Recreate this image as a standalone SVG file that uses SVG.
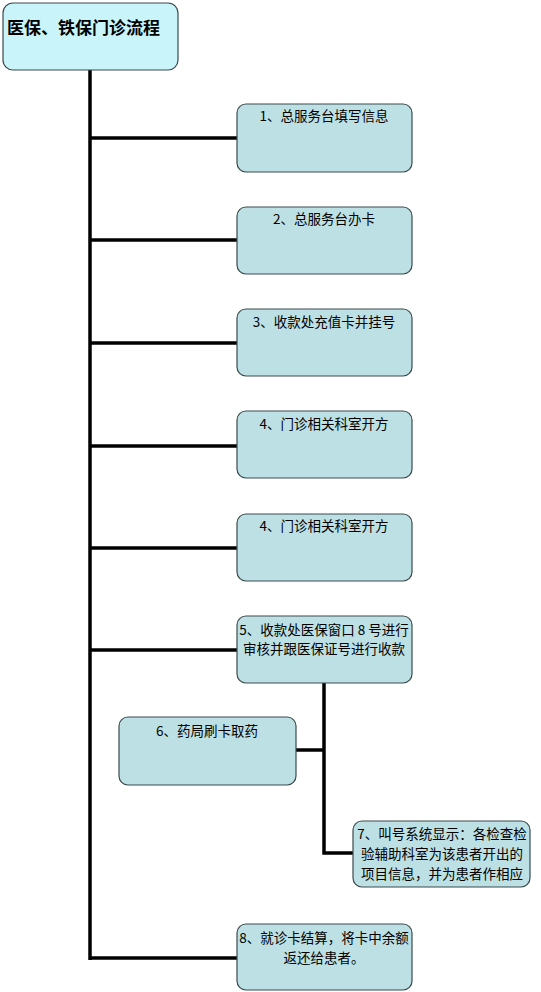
<svg xmlns="http://www.w3.org/2000/svg" width="541" height="992" viewBox="0 0 541 992">
<style>
.box{fill:#bde0e5;stroke:#3a4a4c;stroke-width:1.2}
.title{fill:#c8f4fa;stroke:#3a4a4c;stroke-width:1.2}
text{font-family:"Noto Sans CJK SC","Noto Sans",sans-serif;font-size:13.5px;fill:#000;text-anchor:middle}
.t{font-size:17px;font-weight:bold;text-anchor:start}
.c{stroke:#000;stroke-width:3.5;fill:none}
</style>
<rect width="541" height="992" fill="#fff"/>
<g id="connectors">
<path class="c" d="M90 70 V960"/>
<path class="c" d="M90 138 H237"/>
<path class="c" d="M90 240 H237"/>
<path class="c" d="M90 343 H237"/>
<path class="c" d="M90 446 H237"/>
<path class="c" d="M90 548 H237"/>
<path class="c" d="M90 650 H237"/>
<path class="c" d="M90 958 H237"/>
<path class="c" d="M324 683 V853 H353"/>
<path class="c" d="M296 750 H324"/>
</g>
<g id="title"><rect class="title" x="3" y="3" width="175" height="67" rx="10"/><text class="t" x="7" y="34">医保、铁保门诊流程</text></g>
<g id="n1"><rect class="box" x="237" y="104" width="175" height="68" rx="9"/><text x="324" y="121">1、总服务台填写信息</text></g>
<g id="n2"><rect class="box" x="237" y="207" width="175" height="67" rx="9"/><text x="324" y="224">2、总服务台办卡</text></g>
<g id="n3"><rect class="box" x="237" y="309" width="175" height="67" rx="9"/><text x="324" y="327">3、收款处充值卡并挂号</text></g>
<g id="n4"><rect class="box" x="237" y="411" width="175" height="67" rx="9"/><text x="324" y="429">4、门诊相关科室开方</text></g>
<g id="n4b"><rect class="box" x="237" y="514" width="175" height="67" rx="9"/><text x="324" y="531">4、门诊相关科室开方</text></g>
<g id="n5"><rect class="box" x="237" y="616" width="175" height="67" rx="9"/><text x="324" y="635">5、收款处医保窗口 8 号进行</text><text x="324" y="654">审核并跟医保证号进行收款</text></g>
<g id="n6"><rect class="box" x="119" y="717" width="177" height="68" rx="9"/><text x="207" y="736">6、药局刷卡取药</text></g>
<g id="n7"><rect class="box" x="353" y="821" width="177" height="66" rx="9"/><text x="442" y="839">7、叫号系统显示：各检查检</text><text x="442" y="859">验辅助科室为该患者开出的</text><text x="442" y="879">项目信息，并为患者作相应</text></g>
<g id="n8"><rect class="box" x="237" y="924" width="175" height="66" rx="9"/><text x="324" y="943">8、就诊卡结算，将卡中余额</text><text x="324" y="963">返还给患者。</text></g>
</svg>
